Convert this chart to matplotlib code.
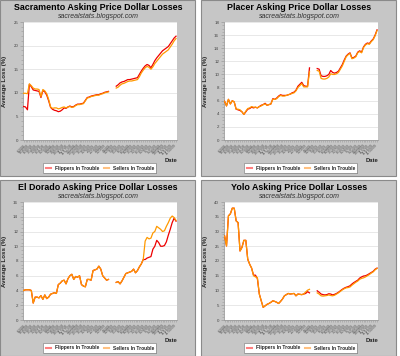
import numpy as np
import pandas as pd
import matplotlib
matplotlib.use("Agg")
import matplotlib.pyplot as plt
from matplotlib.patches import Rectangle
from matplotlib.lines import Line2D
from matplotlib.ticker import MultipleLocator, AutoMinorLocator

plt.rcParams["font.family"] = ["Liberation Sans", "DejaVu Sans"]

nan = np.nan

# =====================================================
# DATA (weekly, gap where no data was collected)
# =====================================================

dates = pd.date_range("2008-06-02", periods=80, freq="W-MON").strftime("%-m/%-d/%y").tolist()

sac_flippers = [7.1, 7.0, 6.4, 11.8, 11.3, 10.6, 10.5, 10.4, 10.3, 9.0,
                10.5, 10.2, 9.5, 8.3, 6.9, 6.5, 6.3, 6.2, 6.0, 6.1,
                6.4, 6.8, 6.7, 7.0, 7.2, 7.0, 7.1, 7.4, 7.6, 7.6,
                7.7, 7.8, 8.4, 9.0, 9.1, 9.3, 9.4, 9.5, 9.6, 9.6,
                9.8, 9.9, 10.1, 10.2, 10.3, nan, nan, nan, 11.4, 11.7,
                12.1, 12.3, 12.4, 12.6, 12.8, 12.8, 12.9, 13.0, 13.1, 13.2,
                13.9, 14.6, 15.2, 15.7, 16.0, 15.8, 15.3, 16.0, 16.8, 17.4,
                17.9, 18.4, 18.9, 19.2, 19.5, 19.8, 20.4, 21.0, 21.6, 22.0]
sac_sellers = [9.9, 9.9, 9.8, 11.9, 11.5, 11.0, 10.8, 10.8, 10.7, 9.2,
               10.7, 10.4, 9.8, 8.6, 7.0, 6.7, 6.8, 6.8, 6.6, 6.7,
               6.9, 7.0, 6.8, 7.0, 7.1, 6.9, 7.0, 7.3, 7.5, 7.5,
               7.6, 7.7, 8.3, 8.9, 9.0, 9.2, 9.3, 9.4, 9.5, 9.5,
               9.7, 9.8, 10.0, 10.1, 10.2, nan, nan, nan, 11.0, 11.2,
               11.6, 11.9, 12.0, 12.2, 12.4, 12.5, 12.5, 12.6, 12.7, 12.8,
               13.4, 14.2, 14.8, 15.3, 15.6, 15.4, 15.0, 15.5, 16.2, 16.7,
               17.2, 17.7, 18.2, 18.5, 18.8, 19.1, 19.7, 20.3, 21.0, 21.5]

pla_flippers = [5.9, 5.2, 6.2, 5.5, 6.0, 5.8, 4.7, 4.6, 4.5, 4.3,
                3.9, 4.3, 4.7, 4.8, 5.0, 4.9, 5.0, 4.9, 5.1, 5.3,
                5.4, 5.6, 5.3, 5.4, 5.5, 6.3, 6.2, 6.4, 6.7, 6.9,
                6.8, 6.8, 6.8, 6.9, 7.0, 7.2, 7.3, 7.6, 8.2, 8.5,
                8.8, 8.3, 8.2, 8.2, 11.0, nan, nan, nan, 10.9, 10.8,
                9.8, 9.7, 9.7, 9.8, 10.0, 10.6, 10.3, 10.2, 10.3, 10.5,
                11.0, 11.5, 12.2, 12.8, 13.1, 13.3, 12.5, 12.6, 12.8, 13.4,
                13.6, 13.4, 14.2, 14.6, 14.8, 14.7, 15.1, 15.4, 16.0, 16.8]
pla_sellers = [5.9, 5.2, 6.2, 5.5, 6.0, 5.8, 4.7, 4.7, 4.6, 4.3,
               3.9, 4.4, 4.8, 4.9, 5.1, 5.0, 5.0, 4.9, 5.1, 5.2,
               5.4, 5.5, 5.3, 5.4, 5.5, 6.2, 6.2, 6.3, 6.6, 6.8,
               6.7, 6.7, 6.8, 6.9, 7.0, 7.1, 7.2, 7.5, 8.0, 8.3,
               8.6, 8.1, 8.1, 8.1, 10.4, nan, nan, nan, 10.6, 10.5,
               9.4, 9.3, 9.3, 9.4, 9.6, 10.1, 10.0, 10.0, 10.1, 10.3,
               10.8, 11.3, 12.0, 12.7, 13.0, 13.2, 12.4, 12.5, 12.7, 13.3,
               13.5, 13.3, 14.1, 14.5, 14.7, 14.6, 15.0, 15.3, 15.9, 16.7]

eld_flippers = [4.0, 4.1, 4.1, 4.1, 4.0, 2.3, 3.1, 3.1, 3.0, 3.3,
                2.8, 3.4, 2.9, 3.1, 3.5, 3.6, 3.7, 3.6, 4.8, 5.0,
                5.3, 5.4, 4.9, 5.6, 6.0, 6.2, 5.5, 5.9, 5.8, 6.0,
                4.8, 4.6, 4.5, 5.5, 5.5, 5.4, 6.7, 6.8, 6.9, 7.3,
                6.9, 6.0, 5.7, 5.4, 5.5, nan, nan, nan, 5.1, 5.2,
                4.9, 5.3, 5.8, 6.3, 6.4, 6.5, 6.6, 6.9, 6.4, 6.7,
                7.2, 7.6, 8.2, 8.2, 8.4, 8.5, 8.6, 9.6, 10.0, 10.8,
                10.5, 10.0, 10.0, 10.1, 10.6, 11.5, 12.3, 13.2, 13.8, 13.4]
eld_sellers = [4.0, 4.1, 4.1, 4.1, 4.0, 2.3, 3.1, 3.1, 3.0, 3.3,
               2.8, 3.4, 2.9, 3.1, 3.5, 3.6, 3.7, 3.6, 4.8, 5.0,
               5.3, 5.4, 4.9, 5.6, 6.0, 6.2, 5.5, 5.9, 5.8, 6.0,
               4.8, 4.6, 4.5, 5.5, 5.5, 5.4, 6.7, 6.8, 6.9, 7.3,
               6.9, 6.0, 5.7, 5.4, 5.5, nan, nan, nan, 5.1, 5.2,
               4.9, 5.3, 5.8, 6.3, 6.4, 6.5, 6.6, 6.9, 6.4, 6.7,
               7.2, 7.6, 8.2, 10.7, 11.2, 11.0, 11.1, 11.8, 12.0, 12.7,
               12.5, 12.3, 12.0, 12.1, 12.7, 13.2, 13.8, 14.1, 13.9, 13.5]

yolo_flippers = [28.5, 25.1, 35.3, 36.0, 37.9, 37.9, 33.6, 33.0, 23.4, 24.6,
                 27.0, 27.0, 20.6, 18.9, 17.6, 15.2, 15.2, 14.0, 8.8, 6.5,
                 4.3, 4.8, 5.3, 5.6, 6.0, 6.5, 6.3, 6.0, 5.6, 6.3,
                 7.1, 8.2, 8.6, 9.0, 8.8, 8.9, 9.0, 8.2, 8.8, 8.7,
                 8.6, 8.8, 9.0, 9.6, 9.2, nan, nan, nan, 9.9, 9.4,
                 8.8, 8.6, 8.5, 8.6, 8.9, 8.8, 8.5, 8.7, 9.0, 9.4,
                 9.9, 10.4, 10.8, 11.1, 11.3, 11.6, 12.2, 12.7, 13.1, 13.5,
                 14.2, 14.6, 14.9, 15.0, 15.3, 15.7, 16.1, 16.5, 17.2, 17.6]
yolo_sellers = [28.5, 25.1, 35.3, 36.0, 37.9, 37.9, 33.6, 33.0, 23.4, 24.6,
                27.0, 27.0, 20.6, 18.9, 17.6, 15.0, 14.6, 14.4, 8.8, 6.5,
                4.3, 4.8, 5.3, 5.6, 6.0, 6.5, 6.3, 6.0, 5.6, 6.3,
                7.1, 8.2, 8.6, 9.0, 8.8, 8.9, 9.0, 8.2, 8.8, 8.7,
                8.6, 8.8, 9.5, 10.1, 10.4, nan, nan, nan, 9.2, 8.8,
                8.2, 8.1, 8.2, 8.3, 8.5, 8.3, 8.2, 8.4, 8.8, 9.2,
                9.7, 10.2, 10.6, 10.9, 11.0, 11.2, 11.8, 12.3, 12.8, 13.2,
                13.8, 14.1, 14.3, 14.6, 15.0, 15.4, 15.9, 16.3, 17.0, 17.5]

titles = ["Sacramento Asking Price Dollar Losses",
          "Placer Asking Price Dollar Losses",
          "El Dorado Asking Price Dollar Losses",
          "Yolo Asking Price Dollar Losses"]
flippers = [sac_flippers, pla_flippers, eld_flippers, yolo_flippers]
sellers = [sac_sellers, pla_sellers, eld_sellers, yolo_sellers]
y_max = [25, 18, 16, 40]
y_step = [5, 2, 2, 5]

# =====================================================
# LAYOUT (pixel based)
# =====================================================

W, H = 400, 356
fig = plt.figure(figsize=(W / 100, H / 100), dpi=100)
fig.patch.set_facecolor("white")

PANEL_BG = "#c6c6c6"
RED = "#ee0000"
ORANGE = "#ff9900"

def fx(x):
    return x / W

def fy(y):
    return 1 - y / H

origins = [(0, 0), (201, 0), (0, 180), (201, 180)]
pw, ph = 196, 176

x = np.arange(len(dates))

for k in range(4):
    ox, oy = origins[k]

    fig.patches.append(Rectangle((fx(ox), fy(oy + ph)), fx(pw - 1), ph / H,
                                 transform=fig.transFigure, facecolor=PANEL_BG,
                                 edgecolor="#8a8a8a", linewidth=0.8, zorder=-5))

    # titles
    cx = ox + pw / 2
    fig.text(fx(cx), fy(oy + 7), titles[k], ha="center", va="center",
             fontsize=6.4, fontweight="bold", color="black")
    fig.text(fx(cx), fy(oy + 16.5), "sacrealstats.blogspot.com", ha="center",
             va="center", fontsize=5.0, style="italic", color="#333333")

    # plot area
    left, right, top, bottom = ox + 23, ox + 177, oy + 22, oy + 140
    ax = fig.add_axes([fx(left), fy(bottom), fx(right - left), (bottom - top) / H])
    ax.set_zorder(1)
    ax.set_facecolor("white")

    ax.plot(x, flippers[k], color=RED, linewidth=0.9, zorder=3)
    ax.plot(x, sellers[k], color=ORANGE, linewidth=0.9, zorder=4)

    ax.set_xlim(-0.3, len(dates) - 0.5)
    ax.set_ylim(0, y_max[k])
    ax.yaxis.set_major_locator(MultipleLocator(y_step[k]))
    ax.yaxis.set_minor_locator(AutoMinorLocator(5 if y_step[k] == 5 else 4))
    ax.grid(axis="y", color="#e4e4e4", linewidth=0.6)
    ax.set_axisbelow(True)

    for s in ["top", "right"]:
        ax.spines[s].set_visible(False)
    for s in ["left", "bottom"]:
        ax.spines[s].set_color("#9a9a9a")
        ax.spines[s].set_linewidth(0.6)

    ax.tick_params(axis="y", which="major", labelsize=3.2, length=2, width=0.5,
                   colors="#9a9a9a", labelcolor="#444444", pad=1.5)
    ax.tick_params(axis="y", which="minor", length=1.2, width=0.4, colors="#9a9a9a")

    ax.set_xticks(x)
    ax.set_xticklabels([d if i % 2 == 0 else "" for i, d in enumerate(dates)],
                       rotation=45, ha="right", rotation_mode="anchor")
    ax.tick_params(axis="x", labelsize=2.6, length=1.5, width=0.4,
                   colors="#9a9a9a", labelcolor="#555555", pad=1)

    # axis titles
    fig.text(fx(ox + 5), fy((top + bottom) / 2), "Average Loss (%)", rotation=90,
             ha="center", va="center", fontsize=4.4, fontweight="bold", color="#222222")
    fig.text(fx(ox + 171), fy(oy + 160), "Date", ha="center", va="center",
             fontsize=4.2, fontweight="bold", color="#222222")

    # legend box
    lx0, lx1, ly0, ly1 = ox + 43, ox + 156, oy + 163, oy + 173
    fig.patches.append(Rectangle((fx(lx0 + 1), fy(ly1 + 1)), fx(lx1 - lx0), (ly1 - ly0) / H,
                                 transform=fig.transFigure, facecolor="#7a7a7a",
                                 edgecolor="none", zorder=2))
    fig.patches.append(Rectangle((fx(lx0), fy(ly1)), fx(lx1 - lx0), (ly1 - ly0) / H,
                                 transform=fig.transFigure, facecolor="white",
                                 edgecolor="#8a8a8a", linewidth=0.5, zorder=3))
    ly = oy + 168
    for sx, col, lab in [(ox + 46, "#ff8080", "Flippers In Trouble"),
                         (ox + 104, "#ffc080", "Sellers In Trouble")]:
        fig.lines.append(Line2D([fx(sx), fx(sx + 5)], [fy(ly), fy(ly)],
                                transform=fig.transFigure, color=col,
                                linewidth=1.5, zorder=4))
        fig.text(fx(sx + 9), fy(ly), lab, ha="left", va="center",
                 fontsize=3.5, fontweight="bold", color="#222222", zorder=4)

plt.savefig("out.png", dpi=100)
